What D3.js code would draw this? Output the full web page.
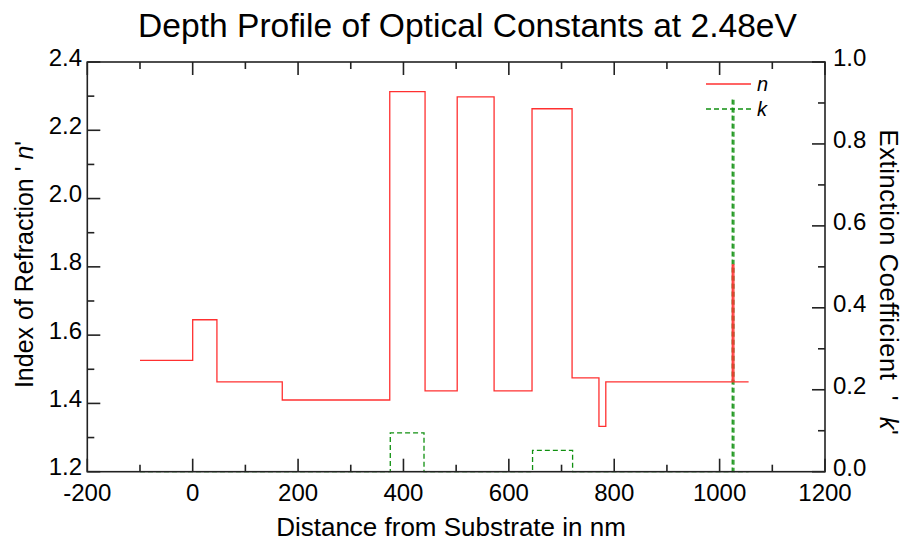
<!DOCTYPE html>
<html><head><meta charset="utf-8">
<script src="https://cdn.jsdelivr.net/npm/d3@7"></script>
<style>body{margin:0;background:#fff;} text{font-family:"Liberation Sans",Arial,sans-serif;}</style>
</head><body>
<svg id="c" width="905" height="544"></svg>
<script>
// n step profile: [x, n] breakpoints (step-after)
const nX = [-100, 0, 46, 170, 374, 441, 502, 572, 644, 720, 771, 784, 1024, 1027, 1055];
const nV = [1.526, 1.645, 1.463, 1.41, 2.313, 1.437, 2.298, 1.437, 2.263, 1.475, 1.333, 1.463, 1.806, 1.463, 1.463];
const kX = [-100, 375, 439, 645, 721, 1024, 1027, 1055];
const kV = [0, 0.095, 0, 0.052, 0, 0.91, 0, 0];
const xTicks = [-200, 0, 200, 400, 600, 800, 1000, 1200];
const yLTicks = [1.2, 1.4, 1.6, 1.8, 2.0, 2.2, 2.4];
const yRTicks = [0.0, 0.2, 0.4, 0.6, 0.8, 1.0];

const svg = d3.select("#c");
const L = 87.3, R = 825, T = 62, B = 471.7;
const x = d3.scaleLinear().domain([-200, 1200]).range([L, R]);
const yL = d3.scaleLinear().domain([1.2, 2.4]).range([B, T]);
const yR = d3.scaleLinear().domain([0, 1]).range([B, T]);

const FS = 24;
// title
svg.append("text").attr("x", 467.5).attr("y", 37).attr("text-anchor", "middle")
  .attr("font-size", 33.6).text("Depth Profile of Optical Constants at 2.48eV");

// data lines
const nData = nX.map((d, i) => [d, nV[i]]);
const kData = kX.map((d, i) => [d, kV[i]]);
svg.append("path").datum(kData)
  .attr("d", d3.line().x(d => x(d[0])).y(d => yR(d[1])).curve(d3.curveStepAfter))
  .attr("fill", "none").attr("stroke", "#109010").attr("stroke-width", 1.3).attr("stroke-dasharray", "5,3");
svg.append("path").datum(nData)
  .attr("d", d3.line().x(d => x(d[0])).y(d => yL(d[1])).curve(d3.curveStepAfter))
  .attr("fill", "none").attr("stroke", "#ff3030").attr("stroke-width", 1.3);

// frame
svg.append("rect").attr("x", L).attr("y", T).attr("width", R - L).attr("height", B - T)
  .attr("fill", "none").attr("stroke", "#222").attr("stroke-width", 1.6);

// ticks
const g = svg.append("g").attr("stroke", "#222").attr("stroke-width", 1.6);
const xMinor = d3.range(-200, 1201, 100);
xMinor.forEach(v => {
  const len = (v % 200 === 0) ? 13 : 7;
  g.append("line").attr("x1", x(v)).attr("x2", x(v)).attr("y1", B).attr("y2", B - len);
  g.append("line").attr("x1", x(v)).attr("x2", x(v)).attr("y1", T).attr("y2", T + len);
});
d3.range(0, 13).forEach(i => {
  const v = 1.2 + i * 0.1;
  const len = (i % 2 === 0) ? 13 : 7;
  g.append("line").attr("x1", L).attr("x2", L + len).attr("y1", yL(v)).attr("y2", yL(v));
});
d3.range(0, 11).forEach(i => {
  const v = i * 0.1;
  const len = (i % 2 === 0) ? 13 : 7;
  g.append("line").attr("x1", R).attr("x2", R - len).attr("y1", yR(v)).attr("y2", yR(v));
});

// tick labels
svg.append("g").selectAll("text").data(xTicks).join("text")
  .attr("x", d => x(d)).attr("y", 501).attr("text-anchor", "middle").attr("font-size", FS)
  .text(d => d);
svg.append("g").selectAll("text").data(yLTicks).join("text")
  .attr("x", 82).attr("y", d => yL(d) + 3.5).attr("text-anchor", "end").attr("font-size", FS)
  .text(d => d.toFixed(1));
svg.append("g").selectAll("text").data(yRTicks).join("text")
  .attr("x", 833).attr("y", d => yR(d) + 4).attr("text-anchor", "start").attr("font-size", FS)
  .text(d => d.toFixed(1));

// axis titles
svg.append("text").attr("x", 451).attr("y", 536).attr("text-anchor", "middle").attr("font-size", 26)
  .text("Distance from Substrate in nm");
const lt = svg.append("text").attr("transform", "translate(33,264.5) rotate(-90)")
  .attr("text-anchor", "middle").attr("font-size", 25);
lt.append("tspan").text("Index of Refraction ' ");
lt.append("tspan").attr("font-style", "italic").text("n");
lt.append("tspan").text("'");
const rt = svg.append("text").attr("transform", "translate(880,282.5) rotate(90)")
  .attr("text-anchor", "middle").attr("font-size", 25.5).attr("letter-spacing", 0.6)
  .attr("xml:space", "preserve");
rt.append("tspan").text("Extinction Coefficient  '  ");
rt.append("tspan").attr("font-style", "italic").text("k");
rt.append("tspan").text("'");

// legend
svg.append("line").attr("x1", 706).attr("x2", 751).attr("y1", 84).attr("y2", 84)
  .attr("stroke", "#ff3030").attr("stroke-width", 1.3);
svg.append("text").attr("x", 757).attr("y", 91).attr("font-size", 20).attr("font-style", "italic").text("n");
svg.append("line").attr("x1", 706).attr("x2", 751).attr("y1", 109).attr("y2", 109)
  .attr("stroke", "#109010").attr("stroke-width", 1.3).attr("stroke-dasharray", "5,3");
svg.append("text").attr("x", 757).attr("y", 116).attr("font-size", 20).attr("font-style", "italic").text("k");
</script>
</body></html>
